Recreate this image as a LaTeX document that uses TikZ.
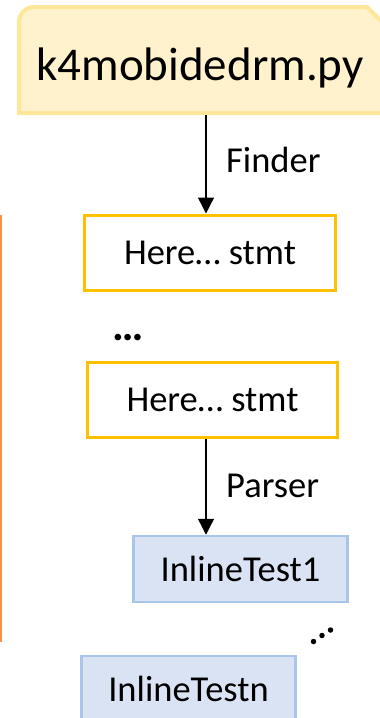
\documentclass[tikz,border=0pt]{standalone}
\usepackage{fontspec}
\setmainfont{Carlito}
\usetikzlibrary{arrows.meta}
\definecolor{srcfill}{HTML}{FFF2CC}
\definecolor{srcline}{HTML}{FFE699}
\definecolor{stmtline}{HTML}{FFC000}
\definecolor{testfill}{HTML}{DAE3F3}
\definecolor{testline}{HTML}{A9C6EA}
\definecolor{sideline}{HTML}{F4924A}
\tikzset{
  body/.style={font=\fontsize{36.5}{40}\selectfont, text=black},
  stmtbox/.style={body, draw=stmtline, line width=3pt, fill=white,
    minimum height=75pt, inner sep=0pt},
  testbox/.style={body, draw=testline, line width=2.5pt, fill=testfill,
    minimum width=214pt, minimum height=66pt, inner sep=0pt},
  flow/.style={line width=1.3pt, -{Triangle[length=16pt,width=16pt]}},
  edgelabel/.style={body, anchor=base west, inner sep=0pt},
  bigdots/.style={fill=black, circle, inner sep=0pt, minimum size=5.5pt}
}
\begin{document}
\begin{tikzpicture}[x=1pt,y=-1pt]
\useasboundingbox (0,0) rectangle (380,718);
\clip (0,0) rectangle (380,718);

% source file box: rounded top-left, cut top-right corner
\fill[srcfill, draw=srcline, line width=4pt]
  (19,113) -- (19,22) [rounded corners=15pt] -- (19,7) [sharp corners] -- (367,7)
  -- (398,38) -- (398,113) -- cycle;
\node[body, font=\fontsize{47}{52}\selectfont, anchor=base, inner sep=0pt]
  (srctext) at (200,80) {k4mobidedrm.py};
\coordinate (srcbot) at (206,115);

% side rule on the left
\draw[sideline, line width=2pt] (1,215) -- (1,642);

% statement boxes
\node[stmtbox, minimum width=251pt] (stmtA) at (210,252.5) {Here… stmt};
\node[body, font=\fontsize{44}{48}\selectfont\bfseries, anchor=base, inner sep=0pt]
  (gap) at (128.5,340) {…};
\node[stmtbox, minimum width=250pt] (stmtB) at (212.5,399.5) {Here… stmt};

% inline tests
\node[testbox] (testA) at (240.5,569) {InlineTest1};
\node[testbox] (testN) at (188.5,689) {InlineTestn};

% trailing dots between the tests
\node[bigdots] (d1) at (313.5,641.5) {};
\node[bigdots] (d2) at (322,635.5) {};
\node[bigdots] (d3) at (330.5,630) {};

% connectors
\draw[flow] (srcbot) -- (srcbot |- stmtA.north);
\node[edgelabel] (finder) at (226,172) {Finder};
\draw[flow] (srcbot |- stmtB.south) -- (srcbot |- testA.north);
\node[edgelabel] (parser) at (226,497) {Parser};
\end{tikzpicture}
\end{document}
